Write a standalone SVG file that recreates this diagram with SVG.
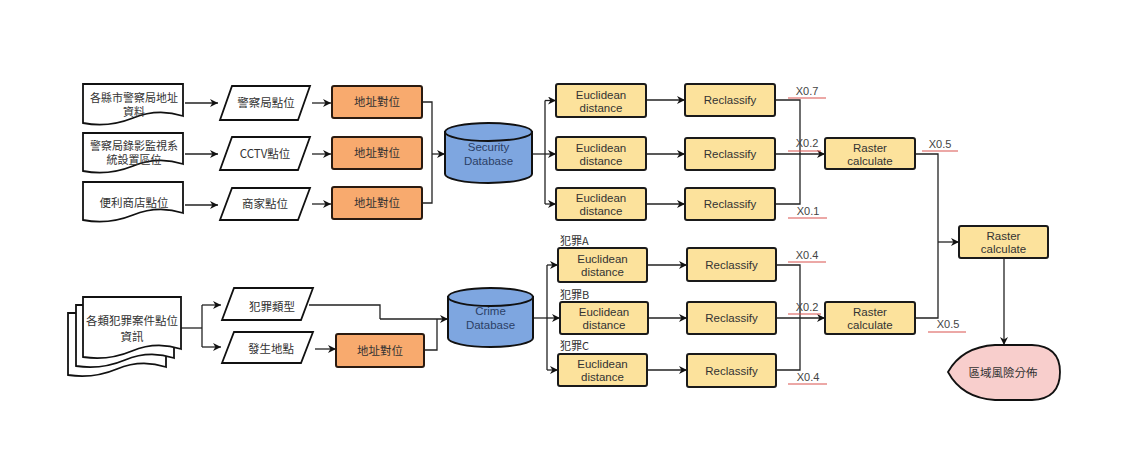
<svg xmlns="http://www.w3.org/2000/svg" width="1130" height="471" viewBox="0 0 1130 471">
<defs>
<marker id="arr" viewBox="0 0 10 10" refX="10" refY="5" markerWidth="9" markerHeight="8" orient="auto" markerUnits="userSpaceOnUse">
<path d="M0,0 L10,5 L0,10 L3,5 Z" fill="#111"/>
</marker>
<style>
.doc{fill:#fff;stroke:#111;stroke-width:1.8}
.para{fill:#fff;stroke:#111;stroke-width:1.8}
.org{fill:#F8AA6E;stroke:#2a1a10;stroke-width:2}
.yel{fill:#FCE29C;stroke:#1a1a1a;stroke-width:2}
.cyl{fill:#7EA6E0;stroke:#111;stroke-width:2}
.out{fill:#F8CECC;stroke:#111;stroke-width:1.8}
.cj{font-family:"Noto Sans CJK TC","Noto Sans CJK SC",sans-serif;font-size:11.5px;fill:#333;text-anchor:middle}
.cjs{font-family:"Noto Sans CJK TC","Noto Sans CJK SC",sans-serif;font-size:11px;fill:#333;text-anchor:middle}
.cjl{font-family:"Noto Sans CJK TC","Noto Sans CJK SC",sans-serif;font-size:11px;fill:#333}
.lt{font-family:"Liberation Sans",Arial,sans-serif;font-size:11.5px;fill:#333;text-anchor:middle}
.db{font-family:"Liberation Sans",Arial,sans-serif;font-size:11.5px;fill:#2b3f66;text-anchor:middle}
.w{font-family:"Liberation Sans",Arial,sans-serif;font-size:11px;fill:#444;text-anchor:middle}
.ul{stroke:#d9534f;stroke-width:1.1}
.c{fill:none;stroke:#222;stroke-width:1.3}
.a{fill:none;stroke:#222;stroke-width:1.3;marker-end:url(#arr)}
</style>
</defs>
<rect width="1130" height="471" fill="#fff"/>

<g id="connectors">
<path class="a" d="M185,103 H218"/>
<path class="a" d="M185,154 H218"/>
<path class="a" d="M185,205 H218"/>
<path class="a" d="M312,103 H331"/>
<path class="a" d="M312,154 H331"/>
<path class="a" d="M312,204 H331"/>
<path class="c" d="M422,102 H432 V203 H422"/>
<path class="a" d="M432,154 H445"/>
<path class="c" d="M532,154 H545"/>
<path class="c" d="M545,100.5 V204"/>
<path class="a" d="M545,100.5 H556"/>
<path class="a" d="M545,154 H556"/>
<path class="a" d="M545,204 H556"/>
<path class="a" d="M646,100 H685"/>
<path class="a" d="M646,154 H685"/>
<path class="a" d="M646,204 H685"/>
<path class="c" d="M775,100 H800 V204 H775"/>
<path class="a" d="M775,154 H825"/>
<path class="c" d="M915,154 H938 V318 H915"/>
<path class="a" d="M938,242 H959"/>
<path class="a" d="M1004,258 V345"/>
<path class="c" d="M181,328 H202"/>
<path class="c" d="M202,305 V347"/>
<path class="a" d="M202,305 H221"/>
<path class="a" d="M202,347 H221"/>
<path class="c" d="M309,305 H380 V319"/>
<path class="a" d="M380,319 H448"/>
<path class="a" d="M315,349 H336"/>
<path class="c" d="M424,350 H437 V319"/>
<path class="c" d="M533,318 H547"/>
<path class="c" d="M547,265 V370"/>
<path class="a" d="M547,265 H558"/>
<path class="a" d="M547,318 H560"/>
<path class="a" d="M547,370 H558"/>
<path class="a" d="M647,265 H687"/>
<path class="a" d="M648,318 H687"/>
<path class="a" d="M647,370 H687"/>
<path class="c" d="M776,265 H800 V370 H776"/>
<path class="a" d="M776,318 H825"/>
</g>

<g id="doc1">
<path class="doc" d="M83,84 H183 V116 Q158,108 133,118 T83,123 Z"/>
<text class="cjs" x="134" y="102">各縣市警察局地址</text>
<text class="cjs" x="134" y="116">資料</text>
</g>
<g id="doc2">
<path class="doc" d="M83,133 H183 V164 Q158,156 133,166 T83,171 Z"/>
<text class="cjs" x="134" y="150">警察局錄影監視系</text>
<text class="cjs" x="134" y="164">統設置區位</text>
</g>
<g id="doc3">
<path class="doc" d="M83,182 H183 V213 Q158,205 133,215 T83,220 Z"/>
<text class="cj" x="134" y="207">便利商店點位</text>
</g>

<g id="para1">
<path class="para" d="M232,86 H310 L298,120 H220 Z"/>
<text class="cj" x="266" y="107">警察局點位</text>
</g>
<g id="para2">
<path class="para" d="M232,137 H310 L298,170 H220 Z"/>
<text class="cj" x="265" y="158">CCTV點位</text>
</g>
<g id="para3">
<path class="para" d="M232,188 H310 L298,220 H220 Z"/>
<text class="cj" x="265" y="208">商家點位</text>
</g>

<g id="geo1"><rect class="org" x="332" y="86" width="90" height="32" rx="2"/><text class="cj" x="377" y="106">地址對位</text></g>
<g id="geo2"><rect class="org" x="332" y="137" width="90" height="32" rx="2"/><text class="cj" x="377" y="157">地址對位</text></g>
<g id="geo3"><rect class="org" x="332" y="187" width="90" height="32" rx="2"/><text class="cj" x="377" y="207">地址對位</text></g>

<g id="securityDB">
<path class="cyl" d="M445,132 V174 A43.5,9 0 0 0 532,174 V132 Z"/>
<ellipse class="cyl" cx="488.5" cy="132" rx="43.5" ry="9"/>
<text class="db" x="488.5" y="151">Security</text>
<text class="db" x="488.5" y="165">Database</text>
</g>

<g id="euc1"><rect class="yel" x="556" y="84" width="90" height="33" rx="2"/><text class="lt" x="601" y="98.5">Euclidean</text><text class="lt" x="601" y="111.5">distance</text></g>
<g id="euc2"><rect class="yel" x="556" y="137" width="90" height="33" rx="2"/><text class="lt" x="601" y="151.5">Euclidean</text><text class="lt" x="601" y="164.5">distance</text></g>
<g id="euc3"><rect class="yel" x="556" y="188" width="90" height="32" rx="2"/><text class="lt" x="601" y="202">Euclidean</text><text class="lt" x="601" y="215">distance</text></g>

<g id="rec1"><rect class="yel" x="685" y="84" width="90" height="32" rx="2"/><text class="lt" x="730" y="104">Reclassify</text></g>
<g id="rec2"><rect class="yel" x="685" y="138" width="90" height="32" rx="2"/><text class="lt" x="730" y="158">Reclassify</text></g>
<g id="rec3"><rect class="yel" x="685" y="188" width="90" height="32" rx="2"/><text class="lt" x="730" y="208">Reclassify</text></g>

<g id="w-top">
<text class="w" x="807" y="95">X0.7</text><line class="ul" x1="788" y1="98" x2="826" y2="98"/>
<text class="w" x="807" y="147">X0.2</text><line class="ul" x1="788" y1="151" x2="821" y2="151"/>
<text class="w" x="808" y="215">X0.1</text><line class="ul" x1="788" y1="218" x2="827" y2="218"/>
<text class="w" x="940" y="148">X0.5</text><line class="ul" x1="922" y1="151" x2="958" y2="151"/>
</g>

<g id="raster1"><rect class="yel" x="825" y="138" width="90" height="31" rx="2"/><text class="lt" x="870" y="151.5">Raster</text><text class="lt" x="870" y="164.5">calculate</text></g>

<g id="crimeDocs">
<path class="doc" d="M68,313 H166 V367 Q141,359 117,369 T68,375 Z"/>
<path class="doc" d="M76,305 H174 V358 Q149,350 125,360 T76,366 Z"/>
<path class="doc" d="M83,297 H181 V349 Q156,341 132,351 T83,357 Z"/>
<text class="cj" x="132" y="325">各類犯罪案件點位</text>
<text class="cj" x="132" y="341">資訊</text>
</g>

<g id="para4">
<path class="para" d="M234,288 H313 L301,320 H222 Z"/>
<text class="cj" x="272" y="311">犯罪類型</text>
</g>
<g id="para5">
<path class="para" d="M234,332 H313 L301,363 H222 Z"/>
<text class="cj" x="271" y="353">發生地點</text>
</g>

<g id="geo4"><rect class="org" x="336" y="334" width="88" height="33" rx="2"/><text class="cj" x="380" y="355">地址對位</text></g>

<g id="crimeDB">
<path class="cyl" d="M448,297 V338 A42.5,9 0 0 0 533,338 V297 Z"/>
<ellipse class="cyl" cx="490.5" cy="297" rx="42.5" ry="9"/>
<text class="db" x="490.5" y="315">Crime</text>
<text class="db" x="490.5" y="329">Database</text>
</g>

<g id="labels-crime">
<text class="cjl" x="560" y="245">犯罪A</text>
<text class="cjl" x="560" y="299">犯罪B</text>
<text class="cjl" x="560" y="350">犯罪C</text>
</g>

<g id="euc4"><rect class="yel" x="558" y="248" width="89" height="34" rx="2"/><text class="lt" x="602.5" y="263">Euclidean</text><text class="lt" x="602.5" y="276">distance</text></g>
<g id="euc5"><rect class="yel" x="560" y="302" width="88" height="32" rx="2"/><text class="lt" x="604" y="316">Euclidean</text><text class="lt" x="604" y="329">distance</text></g>
<g id="euc6"><rect class="yel" x="558" y="354" width="89" height="32" rx="2"/><text class="lt" x="602.5" y="368">Euclidean</text><text class="lt" x="602.5" y="381">distance</text></g>

<g id="rec4"><rect class="yel" x="687" y="248" width="89" height="33" rx="2"/><text class="lt" x="731.5" y="269">Reclassify</text></g>
<g id="rec5"><rect class="yel" x="687" y="302" width="89" height="32" rx="2"/><text class="lt" x="731.5" y="322">Reclassify</text></g>
<g id="rec6"><rect class="yel" x="687" y="354" width="89" height="33" rx="2"/><text class="lt" x="731.5" y="375">Reclassify</text></g>

<g id="w-bottom">
<text class="w" x="807" y="259">X0.4</text><line class="ul" x1="788" y1="262" x2="826" y2="262"/>
<text class="w" x="807" y="311">X0.2</text><line class="ul" x1="788" y1="314" x2="821" y2="314"/>
<text class="w" x="808" y="381">X0.4</text><line class="ul" x1="788" y1="384" x2="827" y2="384"/>
<text class="w" x="948" y="328">X0.5</text><line class="ul" x1="928" y1="332" x2="966" y2="332"/>
</g>

<g id="raster2"><rect class="yel" x="825" y="302" width="90" height="32" rx="2"/><text class="lt" x="870" y="316">Raster</text><text class="lt" x="870" y="329">calculate</text></g>

<g id="raster3"><rect class="yel" x="959" y="226" width="89" height="32" rx="2"/><text class="lt" x="1003.5" y="240">Raster</text><text class="lt" x="1003.5" y="253">calculate</text></g>

<g id="output">
<path class="out" d="M948,372 Q962,347 995,345 H1032 Q1060,346 1060,372 Q1060,399 1032,400 H995 Q962,398 948,372 Z"/>
<text class="cj" x="1003" y="377">區域風險分佈</text>
</g>
</svg>
